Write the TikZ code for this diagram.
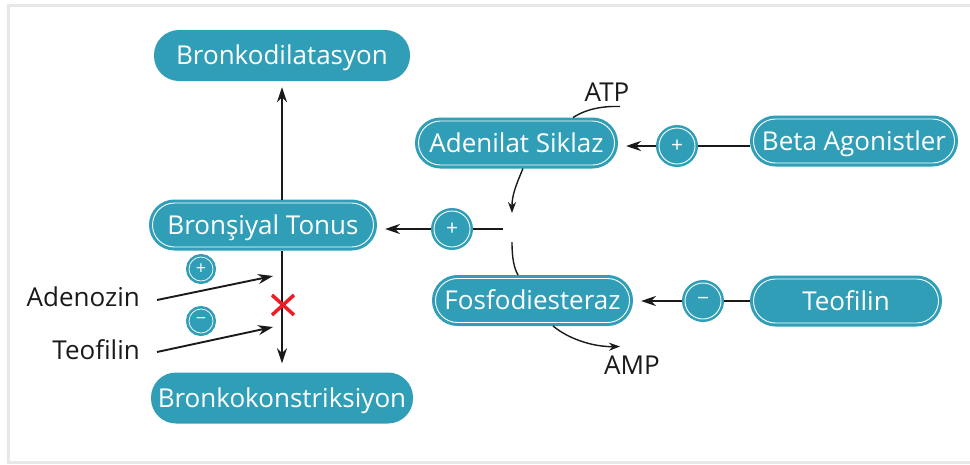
\documentclass[tikz,border=0pt]{standalone}
\usepackage{fontspec}
\setmainfont{Open Sans}
\usepackage{tikz}
\usetikzlibrary{arrows.meta,calc}
\definecolor{ink}{HTML}{1B1919}
\definecolor{bTeal}{HTML}{319EB8}
\definecolor{bGray}{HTML}{E6E7E8}
\definecolor{bRed}{HTML}{EE1C25}
\tikzset{
  pill/.style={rectangle, rounded corners=25pt, fill=bTeal, text=white, font=\fontsize{26}{30}\selectfont, text height=18.5pt, text depth=0pt, minimum height=51pt, inner xsep=0pt},
  pillx/.style={pill, minimum height=44pt, rounded corners=22pt, draw=white, line width=0.9pt, outer sep=3.5pt, preaction={draw=bTeal, line width=7pt}},
  sgn/.style={circle, fill=bTeal, draw=white, line width=0.9pt, text=white, inner sep=0pt, minimum size=36pt, outer sep=3pt, font=\fontsize{21}{21}\selectfont, preaction={draw=bTeal, line width=6pt}},
  sgnS/.style={sgn, minimum size=24pt, line width=0.7pt, outer sep=2.5pt, font=\fontsize{18}{18}\selectfont, preaction={draw=bTeal, line width=5pt}},
  lbl/.style={font=\fontsize{26}{30}\selectfont, text=ink, inner sep=0pt},
}

\begin{document}
\begin{tikzpicture}[x=1pt, y=-1pt,
  arr/.style={-{Stealth[length=15pt, width=10pt]}, line width=2.5pt, ink},
  arrS/.style={arr, line width=1.9pt},
  ln/.style={line width=2.5pt, ink},
  thin/.style={line width=1.4pt, ink},
  thinarr/.style={thin, -{Stealth[length=11pt, width=8pt]}}]
\useasboundingbox (0,0) rectangle (970,464);
\draw[bGray, line width=3pt] (980,5.5) -| (8.5,462.5) -- (980,462.5);
\node[pill, minimum width=256pt] (dil) at (282,55.5) {Bronkodilatasyon};
\node[pill, minimum width=262pt] (kon) at (282,398) {Bronkokonstriksiyon};
\node[pillx, minimum width=221pt] (ton) at (263,225) {Bronşiyal Tonus};
\node[pillx, minimum width=196pt] (ade) at (516.5,143) {Adenilat Siklaz};
\node[pillx, minimum width=194pt] (fos) at (532.5,300.5) {Fosfodiesteraz};
\node[pillx, minimum width=201pt] (bet) at (854,141) {Beta Agonistler};
\node[pillx, minimum width=185pt] (teo) at (846,301) {Teofilin};
\node[sgn] (pTon) at (452,229) {+};
\node[sgn] (pAde) at (677,146) {+};
\node[sgn] (mFos) at (703,301) {−};
\node[sgnS] (pAdo) at (201,269) {+};
\node[sgnS] (mTeo) at (201,321) {−};
\node[lbl, anchor=east] (ado) at (140,297) {Adenozin};
\node[lbl, anchor=east] (teoL) at (140,350) {Teofilin};
\node[lbl] (atp) at (607,92) {ATP};
\node[lbl] (amp) at (632,365) {AMP};
\coordinate (stub) at (503,229);
\coordinate (gapT) at (512,213);
\coordinate (gapB) at (512,242);
\coordinate (adoT) at (273,276);
\coordinate (teoT) at (273,327);
\coordinate (blok) at (283,305);
\draw[arr, shorten >=6pt] (ton.north -| dil.south) -- (dil.south);
\draw[arr, shorten >=9pt] (ton.south -| kon.north) -- (kon.north);
\draw[ln] (stub) -- (pTon); \draw[arr, shorten >=8pt] (pTon) -- (pTon -| ton.east);
\draw[ln] (bet.west |- pAde) -- (pAde); \draw[arr, shorten >=8pt] (pAde) -- (pAde -| ade.east);
\draw[ln] (teo.west |- mFos) -- (mFos); \draw[arr, shorten >=8pt] (mFos) -- (mFos -| fos.east);
\draw[arrS] ($(ado.east)+(17,3)$) -- (adoT);
\draw[arrS] ($(teoL.east)+(17,2)$) -- (teoT);
\draw[bRed, line width=3.5pt] ($(blok)+(-11,-10)$) -- ($(blok)+(11,10)$) ($(blok)+(-11,10)$) -- ($(blok)+(11,-10)$);
\draw[thinarr] ($(ade.south)+(6.5,0)$) .. controls (516,185) and (512,195) .. (gapT);
\draw[thin] (gapB) .. controls (512,258) and (514,268) .. ($(fos.north)+(-14.5,0)$);
\draw[thin] ($(ade.north)+(56.5,0)$) .. controls (588,108) and (605,106) .. ($(atp.south)+(13,5)$);
\draw[thinarr] ($(fos.south)+(20.5,0)$) .. controls (570,340) and (595,347) .. ($(amp.north)+(-12,-9)$);
\end{tikzpicture}
\end{document}
